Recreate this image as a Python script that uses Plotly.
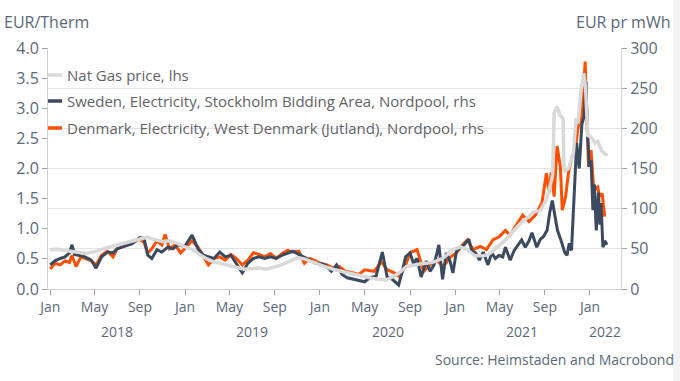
import plotly.graph_objects as go

# ---------------- data ----------------
gas_dates = ["2018-01-01","2018-01-20","2018-02-10","2018-03-01","2018-03-20","2018-04-10","2018-05-01","2018-05-20",
             "2018-06-10","2018-07-01","2018-07-20","2018-08-10","2018-09-01","2018-09-20","2018-10-10","2018-11-01",
             "2018-11-20","2018-12-10","2019-01-01","2019-01-20","2019-02-10","2019-03-01","2019-03-20","2019-04-10",
             "2019-05-01","2019-05-20","2019-06-10","2019-07-01","2019-07-20","2019-08-10","2019-09-01","2019-09-20",
             "2019-10-10","2019-11-01","2019-11-20","2019-12-10","2020-01-01","2020-01-20","2020-02-10","2020-03-01",
             "2020-03-20","2020-04-10","2020-05-01","2020-05-20","2020-06-10","2020-06-28","2020-07-15","2020-08-01",
             "2020-08-22","2020-09-10","2020-10-01","2020-10-20","2020-11-05","2020-11-29","2020-12-15","2020-12-28",
             "2021-01-15","2021-02-01","2021-02-24","2021-03-15","2021-04-01","2021-04-17","2021-05-01","2021-05-17",
             "2021-06-01","2021-06-15","2021-06-27","2021-07-15","2021-08-01","2021-08-19","2021-09-05","2021-09-17",
             "2021-09-22","2021-09-26","2021-10-04","2021-10-12","2021-10-20","2021-10-23","2021-11-04","2021-11-17",
             "2021-11-24","2021-11-30","2021-12-08","2021-12-15","2021-12-20","2021-12-26","2022-01-04","2022-01-15",
             "2022-01-22","2022-02-01","2022-02-10","2022-02-18"]
gas_values = [0.65,0.66,0.64,0.62,0.60,0.59,0.62,0.66,
              0.70,0.73,0.76,0.80,0.84,0.86,0.82,0.79,
              0.80,0.76,0.70,0.66,0.57,0.50,0.45,0.42,
              0.40,0.37,0.33,0.34,0.35,0.33,0.36,0.40,
              0.46,0.52,0.50,0.45,0.40,0.36,0.32,0.29,
              0.27,0.23,0.20,0.18,0.16,0.15,0.20,0.26,
              0.37,0.40,0.42,0.43,0.45,0.51,0.60,0.66,
              0.70,0.66,0.55,0.55,0.57,0.65,0.72,0.81,
              0.92,1.02,1.09,1.18,1.28,1.30,1.48,1.76,
              1.90,2.92,3.03,2.88,2.83,1.95,2.00,2.25,
              2.80,2.78,3.30,3.58,3.35,2.55,2.52,2.42,
              2.45,2.30,2.24,2.22]

se_dates = ["2018-01-01","2018-01-14","2018-01-28","2018-02-10","2018-02-22","2018-03-01","2018-03-08","2018-03-20",
            "2018-04-05","2018-04-22","2018-05-05","2018-05-20","2018-06-05","2018-06-20","2018-07-01","2018-07-20",
            "2018-08-10","2018-08-31","2018-09-12","2018-09-22","2018-10-03","2018-10-17","2018-10-30","2018-11-15",
            "2018-11-29","2018-12-12","2018-12-31","2019-01-20","2019-02-05","2019-02-20","2019-03-05","2019-03-20",
            "2019-04-05","2019-04-20","2019-05-05","2019-05-20","2019-06-05","2019-06-20","2019-07-05","2019-07-20",
            "2019-08-05","2019-08-20","2019-09-05","2019-09-20","2019-10-05","2019-10-20","2019-11-05","2019-11-20",
            "2019-12-05","2019-12-20","2020-01-01","2020-01-15","2020-02-01","2020-02-15","2020-03-01","2020-03-15",
            "2020-04-01","2020-04-15","2020-05-01","2020-05-15","2020-06-01","2020-06-18","2020-07-01","2020-07-15",
            "2020-08-01","2020-08-10","2020-08-20","2020-09-01","2020-09-10","2020-09-20","2020-10-01","2020-10-15",
            "2020-10-25","2020-11-05","2020-11-18","2020-11-28","2020-12-08","2020-12-18","2020-12-26","2021-01-05",
            "2021-01-15","2021-01-25","2021-02-07","2021-02-15","2021-02-25","2021-03-08","2021-03-18","2021-03-31",
            "2021-04-10","2021-04-20","2021-04-30","2021-05-10","2021-05-17","2021-05-30","2021-06-10","2021-06-20",
            "2021-06-30","2021-07-10","2021-07-20","2021-07-28","2021-08-10","2021-08-20","2021-08-28","2021-09-07",
            "2021-09-14","2021-09-21","2021-09-28","2021-10-05","2021-10-15","2021-10-25","2021-10-31","2021-11-06",
            "2021-11-12","2021-11-19","2021-11-26","2021-12-03","2021-12-10","2021-12-16","2021-12-21","2021-12-25",
            "2021-12-30","2022-01-04","2022-01-09","2022-01-13","2022-01-18","2022-01-24","2022-01-28","2022-01-31",
            "2022-02-05","2022-02-10","2022-02-16"]
se_values = [30,35,38,40,45,55,43,42,
             40,36,26,40,46,45,50,53,
             56,64,63,42,38,49,46,52,
             50,55,53,67,50,42,40,38,
             46,40,42,32,20,32,38,40,
             38,40,38,42,45,47,43,40,
             36,32,32,30,22,30,18,14,
             12,10,9,14,16,46,15,12,
             5,20,40,45,32,38,15,35,
             22,30,55,12,45,35,20,48,
             52,55,62,48,45,36,46,30,
             45,38,42,40,52,36,48,55,
             61,52,60,70,52,62,65,73,
             95,110,90,73,60,45,42,57,
             48,110,182,150,205,215,258,200,
             152,160,98,130,73,120,80,107,
             52,60,55]

dk_dates = ["2018-01-01","2018-01-14","2018-01-28","2018-02-10","2018-02-22","2018-03-01","2018-03-12","2018-03-25",
            "2018-04-05","2018-04-22","2018-05-05","2018-05-20","2018-06-05","2018-06-20","2018-07-01","2018-07-20",
            "2018-08-10","2018-08-31","2018-09-12","2018-09-22","2018-10-03","2018-10-17","2018-10-30","2018-11-08",
            "2018-11-20","2018-12-05","2018-12-20","2018-12-31","2019-01-20","2019-02-05","2019-02-20","2019-03-05",
            "2019-03-20","2019-04-05","2019-04-20","2019-05-05","2019-05-20","2019-06-05","2019-06-20","2019-07-05",
            "2019-07-20","2019-08-05","2019-08-20","2019-09-05","2019-09-20","2019-10-05","2019-10-20","2019-11-05",
            "2019-11-20","2019-12-05","2019-12-20","2020-01-01","2020-01-20","2020-02-05","2020-02-23","2020-03-10",
            "2020-04-01","2020-04-15","2020-05-01","2020-05-27","2020-06-15","2020-07-01","2020-07-20","2020-08-05",
            "2020-08-20","2020-09-01","2020-09-20","2020-10-08","2020-10-25","2020-11-12","2020-11-30","2020-12-20",
            "2021-01-05","2021-01-17","2021-02-03","2021-02-19","2021-03-10","2021-03-27","2021-04-13","2021-04-30",
            "2021-05-17","2021-05-30","2021-06-12","2021-07-03","2021-07-20","2021-08-06","2021-08-24","2021-09-05",
            "2021-09-12","2021-09-18","2021-09-26","2021-10-04","2021-10-13","2021-10-18","2021-10-27","2021-11-04",
            "2021-11-14","2021-11-22","2021-11-30","2021-12-10","2021-12-19","2021-12-22","2021-12-28","2022-01-04",
            "2022-01-10","2022-01-14","2022-01-22","2022-01-27","2022-02-03","2022-02-10"]
dk_values = [25,32,30,35,33,42,28,40,
             38,35,30,42,47,40,50,53,
             57,62,58,45,50,60,55,68,
             50,55,45,50,60,52,40,30,
             38,40,36,43,38,30,36,45,
             43,40,44,38,44,48,46,47,
             32,38,35,32,30,26,28,22,
             20,18,24,22,34,24,20,15,
             30,45,49,22,30,36,28,40,
             45,53,61,49,53,49,61,65,
             73,67,77,92,84,92,107,144,
             120,145,115,178,152,98,115,145,
             165,173,202,215,283,231,152,173,
             132,124,127,115,119,90]

month_tick_dates = ["2018-01-01","2018-05-01","2018-09-01","2019-01-01","2019-05-01","2019-09-01",
                    "2020-01-01","2020-05-01","2020-09-01","2021-01-01","2021-05-01","2021-09-01","2022-01-01"]
month_tick_labels = ["Jan","May","Sep","Jan","May","Sep","Jan","May","Sep","Jan","May","Sep","Jan"]
year_labels = ["2018","2019","2020","2021","2022"]
year_label_dates = ["2018-07-02","2019-07-02","2020-07-02","2021-07-02","2022-02-12"]

series_names = ["Nat Gas price, lhs",
                "Sweden, Electricity, Stockholm Bidding Area, Nordpool, rhs",
                "Denmark, Electricity, West Denmark (Jutland), Nordpool, rhs"]
series_colors = ["#d9d9d9", "#3b4a5f", "#ff4f00"]

FONT = "Open Sans"
TXT = "#5a6878"
GRID = "#e3e3e3"

fig = go.Figure()
fig.add_trace(go.Scatter(x=dk_dates, y=dk_values, mode="lines", name=series_names[2],
                         line=dict(color=series_colors[2], width=3), yaxis="y"))
fig.add_trace(go.Scatter(x=se_dates, y=se_values, mode="lines", name=series_names[1],
                         line=dict(color=series_colors[1], width=3), yaxis="y"))
fig.add_trace(go.Scatter(x=gas_dates, y=gas_values, mode="lines", name=series_names[0],
                         line=dict(color=series_colors[0], width=3.5), yaxis="y2"))

L, R, T, B = 48, 59, 48, 92
W, H = 680, 381
pw, ph = W - L - R, H - T - B

def px_x(px):
    return (px - L) / pw

def px_y(py):
    return (H - B - py) / ph

fig.update_layout(
    width=W, height=H,
    margin=dict(l=L, r=R, t=T, b=B),
    paper_bgcolor="white", plot_bgcolor="white",
    showlegend=False,
    font=dict(family=FONT, color=TXT, size=14),
    xaxis=dict(type="date", range=["2017-12-26", "2022-03-26"],
               tickvals=month_tick_dates, ticktext=month_tick_labels,
               showgrid=False, showline=True, linecolor="#cfcfcf", linewidth=1,
               ticks="outside", ticklen=5, tickcolor="#9aa3ad",
               tickfont=dict(size=14, color=TXT), zeroline=False),
    yaxis=dict(side="right", range=[0, 300], tickvals=[0, 50, 100, 150, 200, 250, 300],
               showgrid=True, gridcolor=GRID, gridwidth=1,
               showline=True, linecolor="#cfcfcf", ticks="outside", ticklen=5, tickcolor="#9aa3ad",
               tickfont=dict(size=16, color=TXT), zeroline=False),
    yaxis2=dict(side="left", overlaying="y", range=[0, 4],
                tickvals=[0, 0.5, 1, 1.5, 2, 2.5, 3, 3.5, 4], tickformat=".1f",
                showgrid=False, showline=True, linecolor="#cfcfcf", ticks="outside", ticklen=5,
                tickcolor="#9aa3ad", tickfont=dict(size=16, color=TXT), zeroline=False),
)

annotations = []
for lab, d in zip(year_labels, year_label_dates):
    annotations.append(dict(x=d, xref="x", y=px_y(331), yref="paper", text=lab, showarrow=False,
                            font=dict(size=14, color=TXT), xanchor="center", yanchor="middle"))
annotations.append(dict(x=px_x(2), y=px_y(22), xref="paper", yref="paper", text="EUR/Therm",
                        showarrow=False, xanchor="left", yanchor="middle", font=dict(size=16, color=TXT)))
annotations.append(dict(x=px_x(672), y=px_y(22), xref="paper", yref="paper", text="EUR pr mWh",
                        showarrow=False, xanchor="right", yanchor="middle", font=dict(size=16, color=TXT)))
annotations.append(dict(x=px_x(676), y=px_y(359), xref="paper", yref="paper",
                        text="Source: Heimstaden and Macrobond",
                        showarrow=False, xanchor="right", yanchor="middle", font=dict(size=14, color=TXT)))

shapes = []
legend_rows = [75, 101, 128]
for name, col, row in zip(series_names, series_colors, legend_rows):
    shapes.append(dict(type="line", xref="paper", yref="paper", x0=px_x(48), x1=px_x(62),
                       y0=px_y(row), y1=px_y(row), line=dict(color=col, width=3.5)))
    annotations.append(dict(x=px_x(65), y=px_y(row), xref="paper", yref="paper", text=name,
                            showarrow=False, xanchor="left", yanchor="middle",
                            font=dict(size=15, color="#5f6368")))
shapes.append(dict(type="rect", xref="paper", yref="paper", x0=px_x(673), x1=px_x(681),
                   y0=px_y(382), y1=px_y(-1), fillcolor="#f3f3f3", line=dict(width=0), layer="below"))

fig.update_layout(annotations=annotations, shapes=shapes)
fig.write_html("out.html", config={"displayModeBar": False},
               post_script="document.body.style.margin='0';document.body.style.overflow='hidden';")
